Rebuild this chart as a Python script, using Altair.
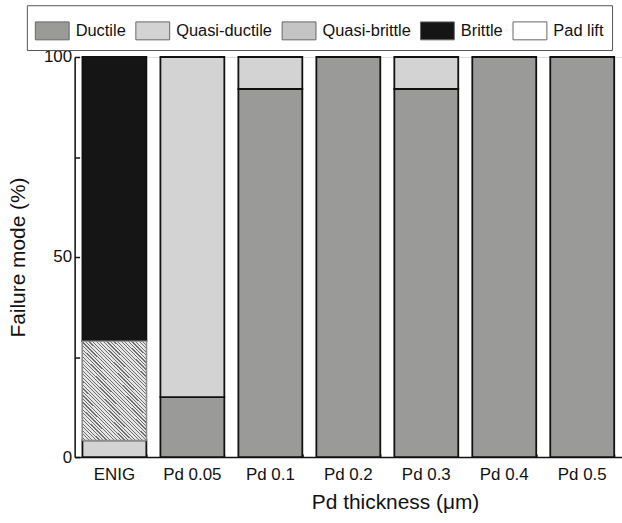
import altair as alt
import pandas as pd

categories = ["ENIG", "Pd 0.05", "Pd 0.1", "Pd 0.2", "Pd 0.3", "Pd 0.4", "Pd 0.5"]
modes = ["Ductile", "Quasi-ductile", "Quasi-brittle", "Brittle", "Pad lift"]
ductile = [0, 15, 92, 100, 92, 100, 100]
quasi_ductile = [4.2, 85, 8, 0, 8, 0, 0]
quasi_brittle = [24.8, 0, 0, 0, 0, 0, 0]
brittle = [71, 0, 0, 0, 0, 0, 0]
pad_lift = [0, 0, 0, 0, 0, 0, 0]
mode_colors = ["#9a9b99", "#d3d3d3", "#c4c4c4", "#151515", "#ffffff"]

series = [ductile, quasi_ductile, quasi_brittle, brittle, pad_lift]
rows = []
for i, cat in enumerate(categories):
    base = 0.0
    for m, vals in zip(modes, series):
        v = vals[i]
        if v > 0:
            rows.append({"cat": cat, "mode": m, "y0": base, "y1": base + v, "val": v})
        base += v
df = pd.DataFrame(rows)

FONT = "Liberation Sans"
W, H = 550, 402

# diagonal hatch as a striped linear gradient
N = 46
stops = []
for k in range(N):
    a = k / N
    b = (k + 0.66) / N
    c = (k + 1) / N
    stops += [
        alt.GradientStop(offset=a, color="#e6e6e6"),
        alt.GradientStop(offset=b, color="#e6e6e6"),
        alt.GradientStop(offset=b, color="#6e6e6e"),
        alt.GradientStop(offset=c, color="#6e6e6e"),
    ]
hatch_fill = alt.LinearGradient(gradient="linear", stops=stops, x1=0, y1=1, x2=0.741, y2=-0.165)

xscale = alt.Scale(domain=categories, paddingInner=0.18, paddingOuter=0.1)
yscale = alt.Scale(domain=[0, 100], nice=False)

base = alt.Chart(df)

bars = base.mark_bar(strokeWidth=1.8).encode(
    x=alt.X("cat:N", sort=categories, scale=xscale,
            axis=alt.Axis(orient="bottom", title="Pd thickness (\u03bcm)", ticks=False, tickSize=0,
                          labelAngle=0, labelFont=FONT, labelFontSize=17, labelColor="#111",
                          labelPadding=10, domainColor="#111", domainWidth=1.5,
                          titleFont=FONT, titleFontSize=21, titleFontWeight="normal", titleColor="#111",
                          titleX=322, titleY=52, titleAlign="center", titleBaseline="alphabetic")),
    y=alt.Y("y0:Q", scale=yscale,
            axis=alt.Axis(orient="left", title="Failure mode (%)", values=[0, 25, 50, 75, 100],
                          labelExpr="datum.value % 50 == 0 ? datum.label : ''",
                          ticks=False, tickSize=0, grid=False, labelPadding=3,
                          labelFont=FONT, labelFontSize=17, labelColor="#111",
                          domainColor="#111", domainWidth=1.5,
                          titleFont=FONT, titleFontSize=21, titleFontWeight="normal", titleColor="#111",
                          titleX=-50, titleY=H / 2, titleAngle=-90, titleAlign="center",
                          titleBaseline="alphabetic")),
    y2="y1:Q",
    fill=alt.Fill("mode:N", scale=alt.Scale(domain=modes, range=mode_colors),
                  legend=alt.Legend(title=None, orient="none", legendX=-48, legendY=-52,
                                    direction="horizontal", columns=5,
                                    symbolType="M-1,-0.53H1V0.53H-1Z", symbolSize=1156,
                                    symbolStrokeColor="#666", symbolStrokeWidth=1,
                                    labelFont=FONT, labelFontSize=16.5, labelColor="#111",
                                    labelOffset=6, columnPadding=7, padding=8,
                                    strokeColor="#555", symbolOpacity=1)),
    stroke=alt.condition("datum.mode == 'Quasi-brittle'", alt.value("#888888"), alt.value("#111111")),
)

hatch = base.transform_filter("datum.mode == 'Quasi-brittle'").mark_bar(
    fill=hatch_fill, stroke="#888888", strokeWidth=1.2
).encode(
    x=alt.X("cat:N", sort=categories, scale=xscale,
            axis=alt.Axis(orient="top", offset=-H, title=None, labels=False, domain=False,
                          ticks=True, tickSize=6, tickColor="#111", tickWidth=1.5, grid=False)),
    y=alt.Y("y0:Q", scale=yscale,
            axis=alt.Axis(orient="right", offset=-W, title=None, labels=False, domain=False,
                          values=[0, 25, 50, 75, 100], ticks=True, tickSize=5,
                          tickColor="#111", tickWidth=1.5, grid=False)),
    y2="y1:Q",
)

edge_ticks = base.transform_filter("datum.mode == 'Quasi-brittle'").mark_bar(opacity=0).encode(
    x=alt.X("cat:N", sort=categories, scale=xscale,
            axis=alt.Axis(orient="top", offset=-H, title=None, labels=False, domain=False,
                          tickBand="extent", ticks=True, tickSize=3, tickColor="#111",
                          tickWidth=1.5, grid=False)),
    y=alt.Y("y0:Q", scale=yscale, axis=None),
    y2="y1:Q",
)

chart = alt.layer(bars, hatch, edge_ticks).resolve_axis(
    x="independent", y="independent"
).properties(
    width=W, height=H,
    autosize=alt.AutoSizeParams(type="none"),
    padding={"left": 75, "top": 56, "right": 0, "bottom": 65},
).configure_view(stroke=None).configure(background="white")

chart.save("out.html", embed_options={"renderer": "svg", "actions": False})
